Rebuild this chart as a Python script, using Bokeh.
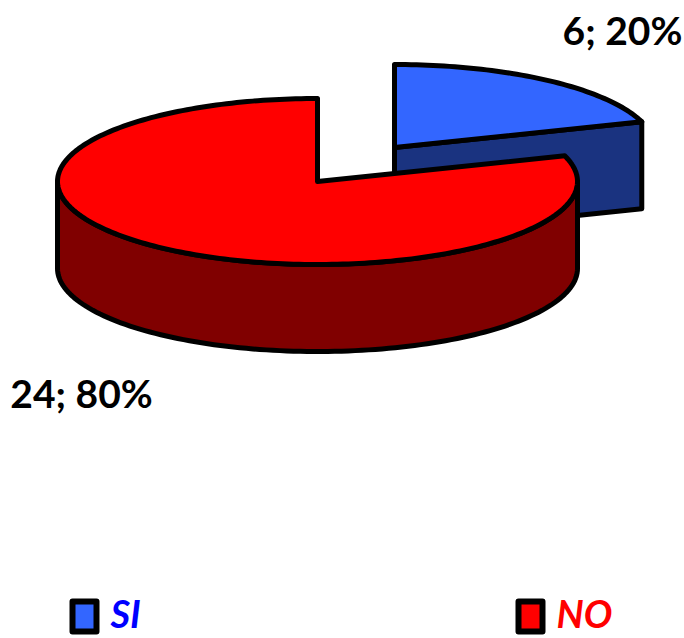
import numpy as np
from bokeh.core.properties import value
from bokeh.embed import file_html
from bokeh.models import Range1d
from bokeh.plotting import figure
from bokeh.resources import INLINE

# Survey answers
categories = ["SI", "NO"]
counts = [6, 24]
top_colors = ["#3366FF", "#FF0000"]
side_colors = ["#1A3380", "#800000"]
label_colors = ["#0000FF", "#FF0000"]

# Pie geometry in page pixels
RX, RY, DEPTH = 260, 83, 87
CENTER_NO = (317, 181)
CENTER_SI = (394, 147)
OUTLINE = 5
FONT = value("Lato")

total = sum(counts)
shares = [c / total for c in counts]
sweep_si = shares[0] * 2 * np.pi
sweep_no = shares[1] * 2 * np.pi
start = np.pi / 2
cut = start - sweep_si  # edge shared by the two slices


def ellipse(center, angles, drop=0):
    return center[0] + RX * np.cos(angles), center[1] - RY * np.sin(angles) + drop


p = figure(width=684, height=638, output_backend="svg", toolbar_location=None,
           x_range=Range1d(0, 684), y_range=Range1d(638, 0),
           min_border=0, outline_line_color=None)
p.axis.visible = False
p.grid.visible = False
p.background_fill_color = "white"
p.border_fill_color = "white"


def shape(xs, ys, color):
    p.patch(list(xs), list(ys), fill_color=color, line_color="black",
            line_width=OUTLINE, line_join="round")


# SI slice: cut face first, then its top
ax, ay = ellipse(CENTER_SI, np.array([cut]))
shape([CENTER_SI[0], ax[0], ax[0], CENTER_SI[0]],
      [CENTER_SI[1], ay[0], ay[0] + DEPTH, CENTER_SI[1] + DEPTH], side_colors[0])
arc = np.linspace(start, cut, 60)
x, y = ellipse(CENTER_SI, arc)
shape(np.r_[CENTER_SI[0], x], np.r_[CENTER_SI[1], y], top_colors[0])

# NO slice: outer wall along the lower half of the rim, then its top
front = np.linspace(np.pi, 2 * np.pi, 120)
x1, y1 = ellipse(CENTER_NO, front)
x2, y2 = ellipse(CENTER_NO, front[::-1], DEPTH)
shape(np.r_[x1, x2], np.r_[y1, y2], side_colors[1])
arc = np.linspace(start, start + sweep_no, 240)
x, y = ellipse(CENTER_NO, arc)
shape(np.r_[CENTER_NO[0], x], np.r_[CENTER_NO[1], y], top_colors[1])

# Data labels
for lx, ly, c, s in [(622, 29, counts[0], shares[0]), (81, 392, counts[1], shares[1])]:
    p.text([lx], [ly], text=[f"{c}; {s:.0%}"], text_color="black", text_align="center",
           text_baseline="middle", text_font=FONT, text_font_style="bold",
           text_font_size="39px")

# Legend
for kx, tx, name, fill, col in zip([84, 530], [110, 556], categories, top_colors, label_colors):
    p.rect([kx], [616], width=24, height=30, fill_color=fill, line_color="black",
           line_width=6, line_join="round")
    p.text([tx], [612], text=[name], text_color=col, text_align="left",
           text_baseline="middle", text_font=FONT, text_font_style="bold italic",
           text_font_size="38px")

open("out.html", "w").write(file_html(p, INLINE))
